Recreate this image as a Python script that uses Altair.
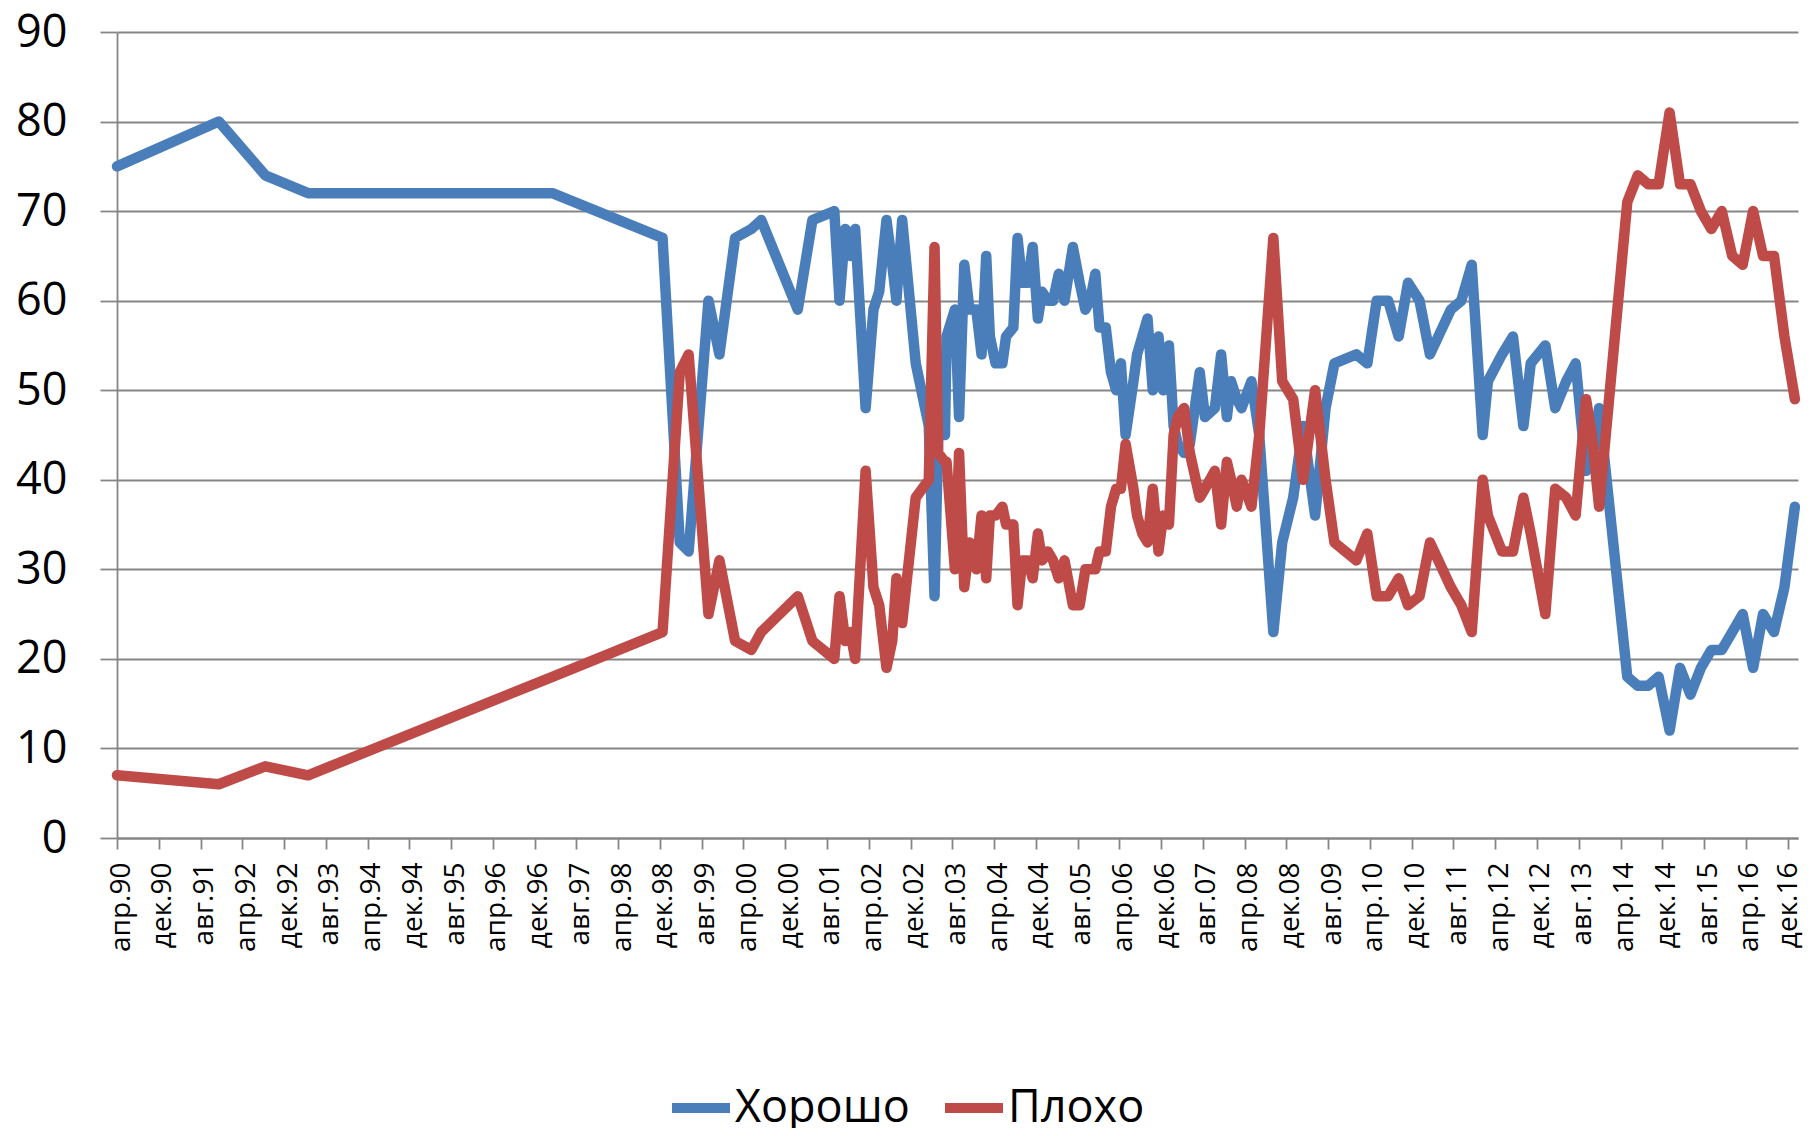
import altair as alt
import pandas as pd

# survey dates
dates = [
    "1990-04-01", "1991-11-16", "1992-08-13", "1993-04-19", "1997-03-13", "1998-12-16",
    "1999-03-25", "1999-05-16", "1999-09-10", "1999-11-13", "2000-02-13", "2000-05-16",
    "2000-07-13", "2001-02-13", "2001-05-07", "2001-09-13", "2001-10-13", "2001-11-16",
    "2001-12-16", "2002-01-13", "2002-03-13", "2002-04-28", "2002-06-01", "2002-07-13",
    "2002-08-16", "2002-09-10", "2002-10-13", "2003-01-01", "2003-03-16", "2003-04-19",
    "2003-05-10", "2003-06-19", "2003-06-28", "2003-08-16", "2003-09-10", "2003-10-10",
    "2003-11-10", "2003-12-19", "2004-01-19", "2004-02-16", "2004-03-07", "2004-04-10",
    "2004-05-19", "2004-06-10", "2004-07-22", "2004-08-16", "2004-09-13", "2004-10-16",
    "2004-11-13", "2004-12-13", "2005-01-07", "2005-02-10", "2005-03-10", "2005-04-13",
    "2005-05-16", "2005-07-04", "2005-08-13", "2005-09-16", "2005-10-13", "2005-11-13",
    "2005-12-07", "2006-01-13", "2006-02-13", "2006-03-13", "2006-04-10", "2006-05-07",
    "2006-06-22", "2006-07-13", "2006-08-13", "2006-09-13", "2006-10-13", "2006-11-16",
    "2006-12-13", "2007-01-16", "2007-02-13", "2007-03-07", "2007-04-13", "2007-05-16",
    "2007-07-13", "2007-08-13", "2007-10-10", "2007-11-16", "2007-12-19", "2008-01-13",
    "2008-02-16", "2008-03-13", "2008-05-10", "2008-06-25", "2008-09-16", "2008-11-07",
    "2009-01-10", "2009-03-07", "2009-05-16", "2009-07-16", "2009-09-07", "2010-01-13",
    "2010-03-16", "2010-05-10", "2010-07-16", "2010-09-16", "2010-11-10", "2011-01-16",
    "2011-03-16", "2011-07-16", "2011-09-16", "2011-11-16", "2012-01-19", "2012-02-19",
    "2012-05-10", "2012-07-13", "2012-09-13", "2012-10-25", "2013-01-19", "2013-03-16",
    "2013-05-19", "2013-07-13", "2013-09-13", "2013-10-16", "2013-11-28", "2014-05-10",
    "2014-07-10", "2014-09-10", "2014-11-10", "2015-01-13", "2015-03-13", "2015-05-13",
    "2015-07-13", "2015-09-13", "2015-11-13", "2016-01-13", "2016-03-13", "2016-05-13",
    "2016-07-10", "2016-09-13", "2016-11-13", "2017-01-13",
]

# "Хорошо"
good = [
    75, 80, 74, 72, 72, 67,
    33, 32, 60, 54, 67, 68,
    69, 59, 69, 70, 60, 68,
    65, 68, 48, 59, 61, 69,
    64, 60, 69, 53, 46, 27,
    45, 45, 56, 59, 47, 64,
    59, 59, 54, 65, 56, 53,
    53, 56, 57, 67, 62, 62,
    66, 58, 61, 60, 60, 63,
    60, 66, 62, 59, 60, 63,
    57, 57, 52, 50, 53, 45,
    51, 54, 56, 58, 50, 56,
    50, 55, 46, 44, 43, 44,
    52, 47, 48, 54, 47, 51,
    49, 48, 51, 45, 23, 33,
    38, 46, 36, 48, 53, 54,
    53, 60, 60, 56, 62, 60,
    54, 59, 60, 64, 45, 51,
    54, 56, 46, 53, 55, 48,
    51, 53, 41, 43, 48, 18,
    17, 17, 18, 12, 19, 16,
    19, 21, 21, 23, 25, 19,
    25, 23, 28, 37,
]

# "Плохо"
bad = [
    7, 6, 8, 7, 18, 23,
    52, 54, 25, 31, 22, 21,
    23, 27, 22, 20, 27, 22,
    23, 20, 41, 28, 26, 19,
    22, 29, 24, 38, 40, 66,
    43, 42, 42, 30, 43, 28,
    33, 30, 36, 29, 36, 36,
    37, 35, 35, 26, 31, 31,
    29, 34, 31, 32, 31, 29,
    31, 26, 26, 30, 30, 30,
    32, 32, 37, 39, 39, 44,
    39, 36, 34, 33, 39, 32,
    36, 35, 45, 47, 48, 43,
    38, 39, 41, 35, 42, 40,
    37, 40, 37, 45, 67, 51,
    49, 40, 50, 40, 33, 31,
    34, 27, 27, 29, 26, 27,
    33, 28, 26, 23, 40, 36,
    32, 32, 38, 34, 25, 39,
    38, 36, 49, 45, 37, 71,
    74, 73, 73, 81, 73, 73,
    70, 68, 70, 65, 64, 70,
    65, 65, 56, 49,
]

tick_labels = [
    "апр.90", "дек.90", "авг.91", "апр.92", "дек.92", "авг.93", "апр.94", "дек.94",
    "авг.95", "апр.96", "дек.96", "авг.97", "апр.98", "дек.98", "авг.99", "апр.00",
    "дек.00", "авг.01", "апр.02", "дек.02", "авг.03", "апр.04", "дек.04", "авг.05",
    "апр.06", "дек.06", "авг.07", "апр.08", "дек.08", "авг.09", "апр.10", "дек.10",
    "авг.11", "апр.12", "дек.12", "авг.13", "апр.14", "дек.14", "авг.15", "апр.16",
    "дек.16",
]

series_names = ["Хорошо", "Плохо"]
series_colors = ["#4A7EBB", "#BE4B48"]
y_ticks = [0, 10, 20, 30, 40, 50, 60, 70, 80, 90]

# months since April 1990 (the axis origin)
d = pd.to_datetime(pd.Series(dates))
months = ((d.dt.year - 1990) * 12 + (d.dt.month - 4) + (d.dt.day - 1) / 30.0).tolist()

df = pd.DataFrame({
    "m": months + months,
    "value": good + bad,
    "series": [series_names[0]] * len(dates) + [series_names[1]] * len(dates),
})

gray = "#868686"
FONT = "Open Sans"
last_tick = (len(tick_labels) - 1) * 8
tick_pos = [i * 8 for i in range(len(tick_labels))]
label_expr = "[" + ",".join("'" + t + "'" for t in tick_labels) + "][round(datum.value / 8)]"

x_enc = alt.X(
    "m:Q",
    scale=alt.Scale(domain=[0, 322], nice=False, zero=False),
    axis=alt.Axis(
        values=tick_pos, labelExpr=label_expr, labelAngle=270, labelFontSize=28,
        labelFont=FONT, labelColor="#000000", tickSize=11, tickColor=gray, tickWidth=1.8,
        domainColor=gray, domainWidth=1.8, grid=False, labelPadding=13,
        labelOffset={"condition": {"test": f"datum.value >= {last_tick}", "value": 1}, "value": 4},
        labelOverlap=False, labelFlush=False, title=None,
    ),
)
y_enc = alt.Y(
    "value:Q",
    scale=alt.Scale(domain=[0, 90], nice=False),
    axis=alt.Axis(
        values=y_ticks, grid=True, gridColor=gray, gridWidth=1.8, tickSize=17,
        tickColor=gray, tickWidth=1.8, domainColor=gray, domainWidth=1.8,
        labelFontSize=45, labelFont=FONT, labelColor="#000000", labelPadding=33, title=None,
    ),
)
color_enc = alt.Color(
    "series:N",
    scale=alt.Scale(domain=series_names, range=series_colors),
    legend=alt.Legend(
        title=None, orient="none", legendX=550, legendY=1042, direction="horizontal",
        symbolType="stroke", symbolSize=3364, symbolStrokeWidth=10, labelFontSize=45,
        labelFont=FONT, labelColor="#000000", labelOffset=0, labelLimit=500,
        columnPadding=15, padding=0,
    ),
)

base = alt.Chart(df).mark_line(strokeWidth=10.5, strokeCap="round", strokeJoin="round")

good_line = base.transform_filter(alt.datum.series == series_names[0]).encode(
    x=x_enc, y=y_enc, color=color_enc)
bad_line = base.transform_filter(alt.datum.series == series_names[1]).encode(
    x=x_enc, y=y_enc, color=color_enc)

chart = alt.layer(good_line, bad_line).properties(
    width=1681, height=806,
    autosize=alt.AutoSizeParams(type="none"),
    padding={"left": 109, "top": 24, "right": 6, "bottom": 290},
).configure_view(strokeWidth=0)

chart.save("out.html", embed_options={"renderer": "svg", "actions": False})
